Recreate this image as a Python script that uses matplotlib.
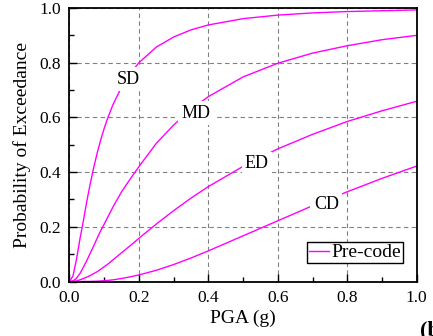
import matplotlib
matplotlib.use("Agg")
import matplotlib.pyplot as plt
from matplotlib.ticker import MultipleLocator, FormatStrFormatter

plt.rcParams["font.family"] = ["Liberation Serif", "DejaVu Serif"]

# ---- data (fragility curves, pre-code) ---------------------------------
pga = [0, 0.01, 0.02, 0.03, 0.04, 0.05, 0.06, 0.07, 0.08, 0.09, 0.1, 0.11,
       0.125, 0.15, 0.175, 0.2, 0.25, 0.3, 0.35, 0.4, 0.5, 0.6, 0.7, 0.8,
       0.9, 1.0]
p_sd = [0, 0.02, 0.08, 0.155, 0.222, 0.294, 0.359, 0.418, 0.471, 0.518,
        0.56, 0.597, 0.646, 0.711, 0.761, 0.80, 0.857, 0.894, 0.92, 0.938,
        0.961, 0.974, 0.982, 0.987, 0.990, 0.993]
p_md = [0, 0.002, 0.012, 0.029, 0.052, 0.077, 0.104, 0.131, 0.159, 0.186,
        0.21, 0.235, 0.272, 0.328, 0.375, 0.42, 0.505, 0.572, 0.63, 0.676,
        0.748, 0.798, 0.835, 0.862, 0.884, 0.9]
p_ed = [0, 0.0, 0.002, 0.006, 0.011, 0.016, 0.022, 0.029, 0.036, 0.045,
        0.054, 0.063, 0.079, 0.105, 0.131, 0.158, 0.21, 0.259, 0.305, 0.347,
        0.421, 0.485, 0.538, 0.585, 0.624, 0.659]
p_cd = [0, 0, 0, 0, 0, 0.0002, 0.0004, 0.0008, 0.0013, 0.002,
        0.003, 0.004, 0.006, 0.011, 0.017, 0.024, 0.041, 0.062, 0.086, 0.112,
        0.167, 0.222, 0.277, 0.328, 0.377, 0.422]

states = ["SD", "MD", "ED", "CD"]
label_pos = [(0.169, 0.739), (0.364, 0.615), (0.54, 0.43), (0.74, 0.28)]
legend_label = "Pre-code"
color = "#ff00ff"

# ---- figure -------------------------------------------------------------
fig = plt.figure(figsize=(4.33, 3.36), dpi=100)
ax = fig.add_axes([0.1605, 0.1622, 0.8018, 0.8140])

for i, p in enumerate([p_sd, p_md, p_ed, p_cd]):
    ax.plot(pga, p, color=color, lw=1.0, zorder=2,
            label=legend_label if i == 0 else None)

for name, (tx, ty) in zip(states, label_pos):
    ax.text(tx, ty, name, fontsize=13, ha="center", va="center", zorder=3,
            bbox=dict(facecolor="white", edgecolor="none", pad=2.5))

ax.set_xlim(0, 1)
ax.set_ylim(0, 1)
ax.xaxis.set_major_locator(MultipleLocator(0.2))
ax.xaxis.set_minor_locator(MultipleLocator(0.1))
ax.yaxis.set_major_locator(MultipleLocator(0.2))
ax.yaxis.set_minor_locator(MultipleLocator(0.1))
ax.xaxis.set_major_formatter(FormatStrFormatter("%.1f"))
ax.yaxis.set_major_formatter(FormatStrFormatter("%.1f"))
ax.tick_params(which="both", direction="in", labelsize=12.5, width=1.0)
ax.tick_params(which="major", length=6, pad=6)
ax.tick_params(which="minor", length=3.5)

ax.grid(True, which="major", ls=(0, (4, 3)), color="#808080", lw=0.8, zorder=1)
for s in ax.spines.values():
    s.set_linewidth(1.3)

ax.set_xlabel("PGA (g)", fontsize=14, labelpad=3)
ax.set_ylabel("Probability of Exceedance", fontsize=14, labelpad=6)

leg = ax.legend(loc="lower right", bbox_to_anchor=(0.961, 0.0665),
                borderaxespad=0, fontsize=14, handlelength=1.0,
                handletextpad=0.15, borderpad=0.1, fancybox=False,
                framealpha=1, edgecolor="black")
leg.get_frame().set_linewidth(1.0)

# panel tag, mostly cut off by the figure edge as in the source
fig.text(0.970, 0.047, "(b)", fontsize=16, fontweight="bold", va="top", ha="left")

fig.savefig("out.png", dpi=100)
